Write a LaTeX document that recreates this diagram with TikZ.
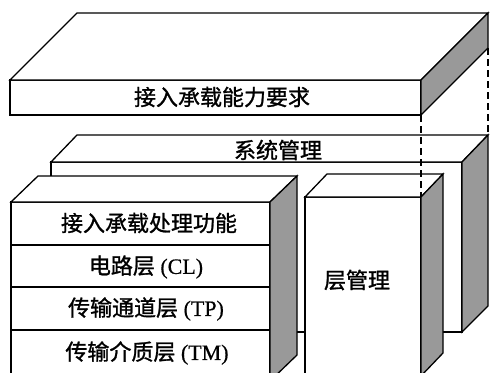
\documentclass[tikz,border=0pt]{standalone}
\usepackage{fontspec}
\setmainfont[FakeBold=0.6]{Liberation Serif}
\newfontfamily\cjk[FakeBold=1.2]{Noto Sans CJK SC}
\begin{document}
\begin{tikzpicture}[x=1pt,y=-1pt, line width=1.3pt, line join=miter,
  face/.style={fill=white,draw=black},
  side/.style={fill=black!40,draw=black},
  lbl/.style={font=\fontsize{22}{22}\selectfont, inner sep=0pt},
  guide/.style={line width=1.1pt, dash pattern=on 7pt off 4pt}]
\clip (0,0) rectangle (492,372);
\fill[white] (0,0) rectangle (492,372);

% ---------- system management (back) ----------
\draw[face] (51,162) -- (462,162) -- (462,332) -- (51,332) -- cycle;
\draw[face] (51,162) -- (77,135) -- (488,135) -- (462,162) -- cycle;
\draw[side] (462,162) -- (488,135) -- (488,306) -- (462,332) -- cycle;
\coordinate (sysBR) at (488,135);
\node[lbl] (sys) at (278,150) {\cjk 系统管理};

% ---------- layer management ----------
\draw[face] (305,197) -- (421,197) -- (421,390) -- (305,390) -- cycle;
\draw[face] (305,197) -- (327,174) -- (443,174) -- (421,197) -- cycle;
\draw[side] (421,197) -- (443,174) -- (443,353) -- (421,376) -- cycle;
\coordinate (lmTR) at (421,197);
\node[lbl] (lm) at (357,280) {\cjk 层管理};

% ---------- top slab: access bearing capability requirement ----------
\draw[face] (10,80) -- (421,80) -- (421,115) -- (10,115) -- cycle;
\draw[face] (10,80) -- (77,13) -- (488,13) -- (421,80) -- cycle;
\draw[side] (421,80) -- (488,13) -- (488,48) -- (421,115) -- cycle;
\coordinate (capFR) at (421,115);
\coordinate (capBR) at (488,48);
\node[lbl] (cap) at (222,97) {\cjk 接入承载能力要求};

% ---------- dashed guides ----------
\draw[guide] (capBR) -- (sysBR);
\draw[guide] (capFR) -- (lmTR);

% ---------- left stack ----------
\draw[face] (11,202) -- (270,202) -- (270,390) -- (11,390) -- cycle;
\draw[face] (11,202) -- (38,176) -- (297,176) -- (270,202) -- cycle;
\draw[side] (270,202) -- (297,176) -- (297,355) -- (270,381) -- cycle;
\draw (11,245) -- (270,245);
\draw (11,287) -- (270,287);
\draw (11,330) -- (270,330);
\node[lbl] (r1) at (149,223) {\cjk 接入承载处理功能};
\node[lbl] (r2) at (146,267) {{\cjk 电路层} (CL)};
\node[lbl] (r3) at (146,309) {{\cjk 传输通道层} (TP)};
\node[lbl] (r4) at (147,353) {{\cjk 传输介质层} (TM)};
\end{tikzpicture}
\end{document}
